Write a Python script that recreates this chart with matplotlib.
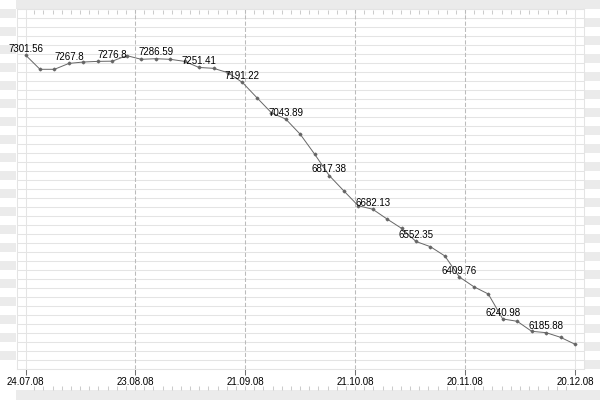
import matplotlib

matplotlib.use("Agg")
import matplotlib.pyplot as plt
import numpy as np
from matplotlib.patches import Rectangle

# Closing values, one point every ~4 days (index 0..38)
values = [7301.56, 7244.1, 7244.1, 7267.8, 7273.4, 7276.0, 7276.8, 7299.0,
          7284.3, 7286.59, 7284.3, 7276.0, 7251.41, 7248.1, 7230.4, 7191.22,
          7130.0, 7069.7, 7043.89, 6982.9, 6902.6, 6817.38, 6756.3, 6696.1,
          6682.13, 6642.6, 6605.2, 6552.35, 6531.3, 6494.0, 6409.76, 6370.6,
          6341.3, 6240.98, 6231.6, 6191.4, 6185.88, 6167.2, 6139.2]
date_labels = ["24.07.08", "23.08.08", "21.09.08", "21.10.08", "20.11.08", "20.12.08"]
label_every = 3

FONT = "Liberation Sans"
BAND = "#ebebeb"
GRID = "#e4e4e4"

fig = plt.figure(figsize=(6, 4), dpi=100)
fig.patch.set_facecolor("white")

# background decorations in pixel coordinates
bg = fig.add_axes([0, 0, 1, 1], zorder=0)
bg.set_xlim(0, 600)
bg.set_ylim(400, 0)
bg.axis("off")
bg.add_patch(Rectangle((16, 0), 584, 9, color=BAND, lw=0))
bg.add_patch(Rectangle((16, 390), 584, 10, color=BAND, lw=0))
for k in range(20):
    bg.add_patch(Rectangle((0, 9 + 18 * k), 16, 9, color=BAND, lw=0))
    bg.add_patch(Rectangle((585, 18 + 18 * k), 15, 9, color=BAND, lw=0))
minor_x = 25 + 550 / 60 * np.arange(1, 60)
bg.vlines(minor_x, 9.5, 14, color="#cccccc", lw=0.75)
bg.vlines(minor_x, 385.5, 390, color="#cccccc", lw=0.75)

# data axes: pixel box x 17..584, y 9..369
ax = fig.add_axes([17 / 600, 31 / 400, 567 / 600, 360 / 400], zorder=1)
ax.patch.set_alpha(0)
x = np.arange(len(values))
ax.set_xlim(-0.59, 38.62)
ax.set_ylim(6039.9, 7486.4)

ax.set_yticks(np.linspace(6039.9, 7486.4, 41))
ax.tick_params(axis="y", length=0, labelleft=False)
for yv in ax.get_yticks():
    ax.axhline(yv, color=GRID, lw=0.75, zorder=0)

xt = np.linspace(0, len(values) - 1, len(date_labels))
ax.set_xticks(xt)
ax.set_xticklabels(date_labels, fontsize=7, family=FONT, color="black")
ax.tick_params(axis="x", length=4.3, width=0.75, color="#707070", pad=1.5)
for i, xv in enumerate(xt):
    if i in (0, len(xt) - 1):
        ax.axvline(xv, color=GRID, lw=0.75, zorder=0)
    else:
        ax.axvline(xv, color="#bbbbbb", lw=0.75, ls=(0, (4, 2)), zorder=0)

for s in ax.spines.values():
    s.set_color(GRID)
    s.set_linewidth(0.75)

ax.plot(x, values, color="#666666", lw=0.7, marker="D", ms=1.4, zorder=3)
for i in range(0, len(values) - 1, label_every):
    ax.annotate(f"{values[i]:g}", (x[i], values[i]), xytext=(0, 4.6),
                textcoords="offset points", ha="center", va="center",
                fontsize=7, family=FONT, color="black", zorder=4)

fig.savefig("out.png", dpi=100)
